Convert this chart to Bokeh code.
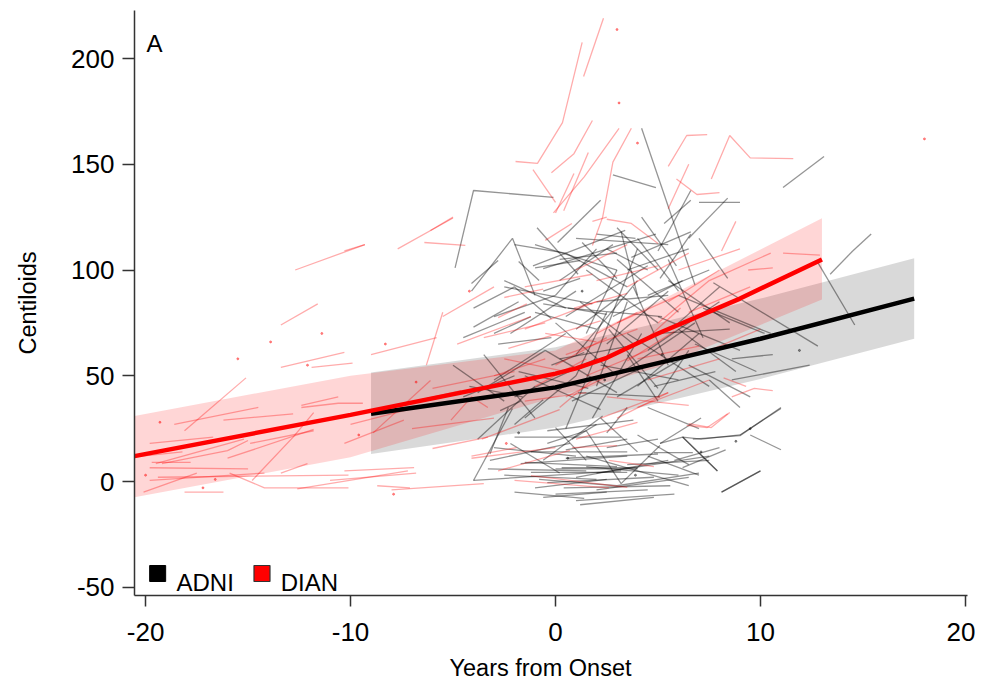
from bokeh.plotting import figure
from bokeh.models import Range1d, FixedTicker, Label, Title
from bokeh.embed import file_html
from bokeh.resources import INLINE
from bokeh.core.properties import value

FONT = "Liberation Sans"

X_TICKS = [-20, -10, 0, 10, 20]
Y_TICKS = [-50, 0, 50, 100, 150, 200]
X_LABEL = "Years from Onset"
Y_LABEL = "Centiloids"
PANEL = "A"
GROUPS = ["ADNI", "DIAN"]

# model-estimated mean trajectories and 95% bands
ADNI_MEAN_X = [-9, 0, 5, 10, 17.5]
ADNI_MEAN_Y = [32, 44.5, 56, 67.5, 86.5]
ADNI_LO = [13, 25.5, 37, 48.5, 67.5]
ADNI_HI = [51.5, 63.5, 75, 86.5, 105.5]

DIAN_MEAN_X = [-20.54, -10, 0, 1, 2.5, 5, 9, 13]
DIAN_MEAN_Y = [12, 31.5, 51, 53.5, 58.5, 70, 86.5, 105]
DIAN_BAND_X = [-20.54, -10, 0, 5, 13]
DIAN_LO = [-7.5, 11.5, 40, 54, 86]
DIAN_HI = [31, 50, 62, 85, 124.5]

# individual trajectories (years from onset, centiloids)
ADNI_X = [
    [-4.9, -4.0, -0.1], [-4.1, -2.1, -1.0], [4.2, 6.8], [2.8, 4.9], [0.1, 2.2],
    [2.0, 3.9], [-1.1, 3.4], [-0.6, 4.9], [0.2, 3.0], [1.3, 3.0],
    [3.7, 6.6], [5.1, 6.6], [5.3, 6.6], [6.6, 5.0], [7.0, 9.0],
    [8.4, 6.5], [11.1, 13.1], [15.4, 14.5], [13.4, 14.5], [12.8, 14.6],
    [7.7, 12.8], [8.6, 10.6], [11.0, 9.0, 7.1, 6.2], [5.1, 7.1], [6.2, 7.9],
    [10.0, 8.1], [4.8, 6.7], [8.3, 6.2], [5.0, 9.0], [4.5, 8.0],
    [6.0, 10.5], [3.5, 7.5], [6.5, 9.5], [5.5, 8.5], [3.0, 6.5],
    [7.5, 9.0], [-4.1, -2.8], [-4.0, -2.0, -0.2], [-4.0, -1.8], [-2.8, -0.2],
    [-1.8, -0.8], [-1.0, 1.2], [-0.6, 1.2], [-0.6, 2.5], [-0.2, 1.4],
    [0.5, 3.5], [1.0, 4.0], [1.5, 5.0], [2.0, 3.5], [-3.0, 0.5],
    [-2.0, 2.0], [0.0, 3.0], [0.8, 4.5], [2.5, 5.5], [3.0, 6.0],
    [-1.5, 1.0], [1.8, 4.2], [-0.5, 3.0], [2.2, 6.0], [4.0, 7.0],
    [-5.0, -2.5], [-3.5, -1.0], [0.2, 2.8], [2.5, 4.5], [-2.0, 0.5],
    [3.5, 6.5], [4.5, 7.0], [1.2, 3.8], [-1.0, 2.0], [0.5, 2.0],
    [3.8, 5.5], [5.5, 7.2], [2.8, 6.2], [-4.0, -2.1], [-4.0, 3.2],
    [-3.2, 0.7], [-0.4, 1.5, 3.2, 5.1], [5.1, 6.2, 7.9], [6.7, 9.0, 11.0], [8.1, 10.0],
    [-2.0, 1.4], [-0.6, 2.5], [1.2, 4.8], [0.0, 4.0], [0.3, 4.0],
    [-1.2, 3.5], [-1.7, 3.5], [-3.3, 1.5], [-0.4, 4.8], [0.4, 5.6],
    [-0.4, 3.8], [-1.2, 3.5], [-2.0, 3.2], [-2.0, -0.6], [0.0, 1.5],
    [2.3, -0.6], [-2.7, -1.7], [-3.2, -2.3], [3.5, 2.5], [1.0, 5.5],
    [2.0, 6.5], [3.5, 7.5], [-1.0, 2.5], [4.5, 7.0], [2.5, 5.0],
    [-4.5, -1.5], [-3.8, -0.5], [1.0, 3.2], [6.0, 8.8], [7.2, 10.2],
    [-2.5, 1.8], [0.6, 5.2], [3.2, 4.0], [-1.5, 2.2], [4.8, 7.8],
    [8.6, 12.4], [9.5, 11.0], [-3.0, -1.2], [0.8, 2.0], [1.5, 6.5],
    [-2.5, 2.0], [-1.5, 3.0], [0.5, 5.0], [1.5, 6.0], [-3.0, 1.0],
    [2.0, 7.5], [0.0, 4.5], [1.0, 5.8], [-0.8, 3.0], [3.0, 7.0],
    [-2.2, 0.2], [4.0, 6.5], [0.5, 3.5], [5.8, 8.0], [2.2, 4.0],
    [-4.5, -2.0], [-3.8, -1.0], [0.0, 2.0], [1.5, 3.0], [4.0, 6.0],
    [2.0, 5.5], [5.0, 8.5], [-2.2, 1.0], [1.0, 2.5], [3.5, 5.0],
    [-1.0, 3.0], [3.0, 5.0], [0.5, 4.5], [-3.0, 0.0], [2.0, 4.0],
    [4.5, 7.5], [6.0, 8.0], [-2.5, 0.5], [1.0, 5.5], [3.3, 6.8],
    [0.2, 3.6], [-1.8, 1.6], [5.0, 6.5], [6.8, 9.8], [-4.2, -1.6],
    [2.6, 5.0], [-0.9, 1.1], [4.2, 5.9], [7.0, 8.4], [1.1, 5.1],
]
ADNI_Y = [
    [101, 137.6, 134.3], [90, 115, 88], [167, 93], [145, 139], [113, 133],
    [117, 115], [102, 118.7], [100.7, 117], [105, 108], [113, 96],
    [106, 118], [96, 117], [122, 133], [137.6, 109], [132, 132],
    [134, 115], [139, 153.7], [117, 109], [98, 109], [103.5, 74],
    [94, 64], [58, 60], [34.5, 22, 20, 21], [18, 30], [21, 5],
    [5, -5], [13.7, 13.7], [15, 6.6], [78, 62], [62, 85],
    [88, 70], [70, 45], [55, 40], [95, 75], [40, 60],
    [48, 35], [93.6, 104.5], [82, 92, 77], [73, 85], [65, 68],
    [104, 95], [101, 104.5], [90, 96], [84, 79], [55, 61],
    [108, 92], [60, 95], [100, 75], [45, 85], [48, 70],
    [40, 58], [75, 50], [38, 55], [65, 90], [105, 80],
    [30, 50], [30, 70], [62, 42], [55, 48], [45, 70],
    [55, 38], [60, 30], [95, 112], [110, 100], [112, 108],
    [100, 110], [35, 25], [85, 65], [80, 72], [25, 60],
    [92, 55], [105, 68], [78, 95], [0.5, 34.5], [0.5, 5],
    [10, 18], [18, 24, -1, 17], [18, 21, 5], [20, 21.7, 35], [-5, 5],
    [-5, -8], [-7.5, -5], [-11, -7.5], [6, 6], [6.5, 6.5],
    [4.3, 4.3], [8.5, 12], [6, 5], [-0.5, 2], [-3, -2],
    [24, 29], [14, 14], [21, 21], [27, 38.6], [25.5, 10],
    [31, 10], [33.5, 38], [13, 35], [35, 23], [2, 10],
    [-4, 2], [8, 10], [-3, 1], [12, 3], [16, 20],
    [68, 80], [42, 62], [72, 88], [72, 52], [82, 70],
    [92, 84], [82, 78], [118, 88], [50, 34], [45, 52],
    [48, 55], [22, 15], [70, 78], [20, 27], [12, -2],
    [3, 1], [9, 7], [11, 13], [7, 3], [16, 12],
    [4, 12], [-6, -4], [-9, -6], [1, -2], [-2, 4],
    [18, 4], [22, 8], [15, 20], [10, 16], [30, 14],
    [40, 50], [20, 45], [88, 110], [70, 100], [115, 90],
    [85, 88], [70, 72], [70, 90], [50, 80], [60, 38],
    [112, 100], [120, 100], [78, 102], [78, 88], [60, 110],
    [88, 100], [75, 92], [95, 82], [115, 112], [52, 75],
    [58, 64], [52, 44], [40, 62], [65, 52], [45, 40],
    [72, 44], [120, 98], [125, 102], [115, 96], [42, 40],
]

DIAN_X = [
    [-19.8, -16.7], [-19.5, -15.2], [-18.1, -15.1], [-18.6, -14.5], [-16.2, -12.8],
    [-16.0, -11.8], [-14.8, -12.8, -11.8], [-14.9, -11.8], [-12.4, -10.6, -9.4], [-10.3, -7.4],
    [-19.8, -14.2], [-19.4, -10.1], [-20.1, -17.5], [-15.9, -14.2, -10.1], [-12.6, -7.2],
    [-18.1, -16.2], [-19.8, -15.0], [-13.4, -11.6], [-13.4, -10.3], [-11.9, -9.9],
    [-12.7, -9.3], [-7.7, -5.0], [-6.4, -4.4], [-6.1, -5.0], [-10.3, -9.3],
    [-19.7, -17.8], [-19.2, -16.0, -15.0], [-13.4, -12.1], [-12.4, -10.6], [-20.2, -18.2],
    [-2.5, -0.6], [-2.8, -1.4], [-2.3, 2.2], [0.9, 3.5], [3.5, 5.8],
    [4.5, 6.1], [-1.0, 1.5], [0.5, 3.0], [1.5, 4.5], [2.0, 5.0],
    [3.0, 6.0], [5.5, 8.0], [6.0, 9.0], [-0.5, 2.0], [7.0, 10.0],
    [8.2, 9.3], [8.6, 9.7, 10.6], [6.5, 7.6, 8.5], [6.4, 7.4, 8.4], [-4.1, 0.0],
    [-2.8, 0.7], [-2.0, 2.6], [-1.2, 3.5], [-6.0, -3.3], [0.8, 3.0],
    [2.6, 4.8], [9.4, 10.6], [11.1, 12.9], [-6.3, -5.5], [-8.9, -6.1],
    [-10.0, -6.4], [-8.2, -4.6], [-5.1, -4.1, -3.3], [-10.3, -6.9], [-4.1, -1.9],
    [-8.7, -7.1], [-11.0, -6.8], [-3.0, -0.5], [-7.0, -3.0], [-6.0, -2.0],
    [-1.95, -0.88, 0.34, 1.3], [1.37, 2.34], [-1.1, 0.0], [0.0, 0.9], [-0.2, 0.9, 1.8],
    [-0.1, 1.4, 3.1], [0.4, 1.6], [-0.5, 0.8], [1.8, 2.3, 2.8, 3.7], [1.8, 2.5],
    [2.5, 3.7, 5.0], [5.5, 6.4, 7.4], [7.6, 8.5, 9.5, 11.6], [5.9, 6.9, 8.0], [5.5, 6.5],
    [8.8, 8.1], [-9.0, -5.8], [-4.8, -1.2], [1.0, 4.0], [4.0, 7.5],
    [-8.0, -3.5], [-1.5, 1.8], [2.2, 5.5], [-5.5, -3.0], [-3.6, 0.2],
    [-3.5, -0.5], [0.5, 4.0], [2.5, 6.5], [4.0, 7.0], [-1.5, 1.5],
    [1.0, 3.5], [3.5, 6.5], [0.0, 2.5], [5.0, 7.5], [-1.5, 2.0],
    [6.5, 9.5], [2.0, 4.0], [4.5, 8.0], [-2.5, 0.5], [7.5, 10.5],
    [0.2, 1.8], [3.0, 5.5],
]
DIAN_Y = [
    [18, 21], [8.5, 20], [24, 49], [27, 35], [29, 32],
    [11, 24.6], [0.5, 21, 32.6], [18, 24], [35, 37, 37], [18, 29],
    [0.5, 4], [2, 3], [-5, 4], [4, -3, -3], [-3.5, 5],
    [-5, -5], [6.5, 6], [74, 84], [54, 61], [54, 56],
    [100, 112], [110, 124.6], [113, 111.6], [118.7, 125], [109, 112],
    [9, 9], [8.5, 14.6, 19.4], [4, 8.5], [36, 40], [12, 14],
    [87, 91], [77.5, 84], [63, 76], [82, 89], [57, 71],
    [68, 82], [45, 58], [40, 52], [50, 62], [95, 102],
    [75, 88], [85, 100], [100, 110], [70, 66], [60, 72],
    [49, 45], [40, 44, 43], [27.4, 25.5, 32.6], [26.5, 25.5, 32], [11, 16],
    [5, 14.7], [0.5, -3], [2.8, -2.8], [15.6, 21], [16, 17],
    [10, 7], [100, 101], [108, 107], [55, 80], [23, 47.8],
    [27, 36], [35, 43], [29, 40, 35], [5, 6.6], [12, 16],
    [-2, -3], [0.5, 4], [50, 58], [25, 30], [44, 52],
    [151.3, 150.4, 169.7, 207.6], [191.5, 219], [147.5, 132], [127, 145.6], [146, 155, 170.7],
    [127, 144, 167], [128, 155.6], [114, 122], [111.6, 125, 151, 167], [123, 125],
    [124, 122, 112.5], [149, 163.6, 164], [143, 163.6, 153, 152.7], [143, 135.7, 136.6], [129, 150],
    [123, 109], [60, 68], [65, 78], [20, 28], [35, 48],
    [-4, -1], [92, 98], [30, 42], [78, 92], [20, 34],
    [68, 75], [60, 72], [40, 36], [58, 64], [38, 42],
    [100, 112], [92, 108], [55, 68], [75, 95], [72, 85],
    [80, 92], [70, 80], [48, 58], [58, 52], [95, 108],
    [35, 48], [30, 42],
]

# single-visit participants
ADNI_DOT_X = [0.6, 2.4, 3.9, 7.1, 8.8, 9.5, -1.8, 5.2, 11.9, 1.3]
ADNI_DOT_Y = [11, 48, 3, 14, 19, 25, 23, 60, 62, 90]
DIAN_DOT_X = [3.0, 3.1, 4.0, 18.0, -19.3, -15.5, -8.3, -12.1, -18.9, -20.0, -17.2, -13.9, -11.4, -6.8, -4.2, -16.6, -9.6, -2.4, -7.9]
DIAN_DOT_Y = [213.7, 179, 160, 162, 28, 58, 65, 55, 15, 3, -3, 66, 70, 47, 90, 1, 22, 18, -6]

p = figure(width=975, height=691, output_backend="svg", toolbar_location=None,
           x_range=Range1d(-20.54, 20.1), y_range=Range1d(-53.9, 222.7),
           min_border_left=134, min_border_right=8, min_border_top=10, min_border_bottom=96,
           background_fill_color="white", border_fill_color="white")
p.outline_line_color = None
p.grid.visible = False

# bands
p.varea(x=ADNI_MEAN_X, y1=ADNI_LO, y2=ADNI_HI, fill_color="black", fill_alpha=0.15)
p.varea(x=DIAN_BAND_X, y1=DIAN_LO, y2=DIAN_HI, fill_color="#ff0000", fill_alpha=0.16)

# spaghetti
p.multi_line(xs=ADNI_X, ys=ADNI_Y, line_color="black", line_alpha=0.42, line_width=1.3)
p.multi_line(xs=DIAN_X, ys=DIAN_Y, line_color="#ff0000", line_alpha=0.33, line_width=1.3)
p.scatter(x=ADNI_DOT_X, y=ADNI_DOT_Y, size=2, color="black", alpha=0.4)
p.scatter(x=DIAN_DOT_X, y=DIAN_DOT_Y, size=2, color="#ff0000", alpha=0.4)

# means
p.line(ADNI_MEAN_X, ADNI_MEAN_Y, line_color="black", line_width=4.5)
p.line(DIAN_MEAN_X, DIAN_MEAN_Y, line_color="#ff0000", line_width=4.5)

# axes
for ax in (p.xaxis[0], p.yaxis[0]):
    ax.minor_tick_line_color = None
    ax.major_tick_in = 0
    ax.axis_line_color = "#333333"
    ax.axis_line_width = 1.5
    ax.major_tick_line_color = "#333333"
    ax.major_tick_line_width = 1.5
    ax.major_label_text_font = FONT
    ax.major_label_text_font_size = "26px"
    ax.major_label_text_color = "black"
    ax.axis_label_text_font = FONT
    ax.axis_label_text_font_size = "23.5px"
    ax.axis_label_text_font_style = "normal"
    ax.axis_label_text_color = "black"

p.xaxis.ticker = FixedTicker(ticks=X_TICKS)
p.yaxis.ticker = FixedTicker(ticks=Y_TICKS)
p.xaxis.major_label_overrides = {t: str(t) for t in X_TICKS}
p.yaxis.major_label_overrides = {t: str(t) for t in Y_TICKS}
p.xaxis.major_tick_out = 11
p.yaxis.major_tick_out = 12
p.xaxis.major_label_standoff = 16
p.yaxis.major_label_standoff = 8
p.yaxis.axis_label = Y_LABEL
p.yaxis.axis_label_standoff = 27

# x axis title, below the axis, slightly left of the frame centre as in the original
p.add_layout(Title(text=X_LABEL, align="left", offset=315, standoff=19,
                   text_font=FONT, text_font_size="23.5px", text_font_style="normal",
                   text_color="black"), "below")

p.add_layout(Label(x=-19.95, y=207, text=PANEL, text_font=FONT, text_font_size="24px",
                   text_baseline="alphabetic", text_color="black"))

# legend (keys)
p.scatter(x=[-19.41], y=[-43.5], marker="square", size=16, fill_color="black", line_color="black")
p.scatter(x=[-14.32], y=[-43.5], marker="square", size=16, fill_color="#ff0000", line_color="#333333", line_width=1.2)
p.text(x=[-18.49, -13.41], y=[-47.8, -47.8], text=GROUPS, text_font=value(FONT),
       text_font_size="24px", text_baseline="alphabetic", text_color="black")

open("out.html", "w").write(file_html(p, INLINE))
